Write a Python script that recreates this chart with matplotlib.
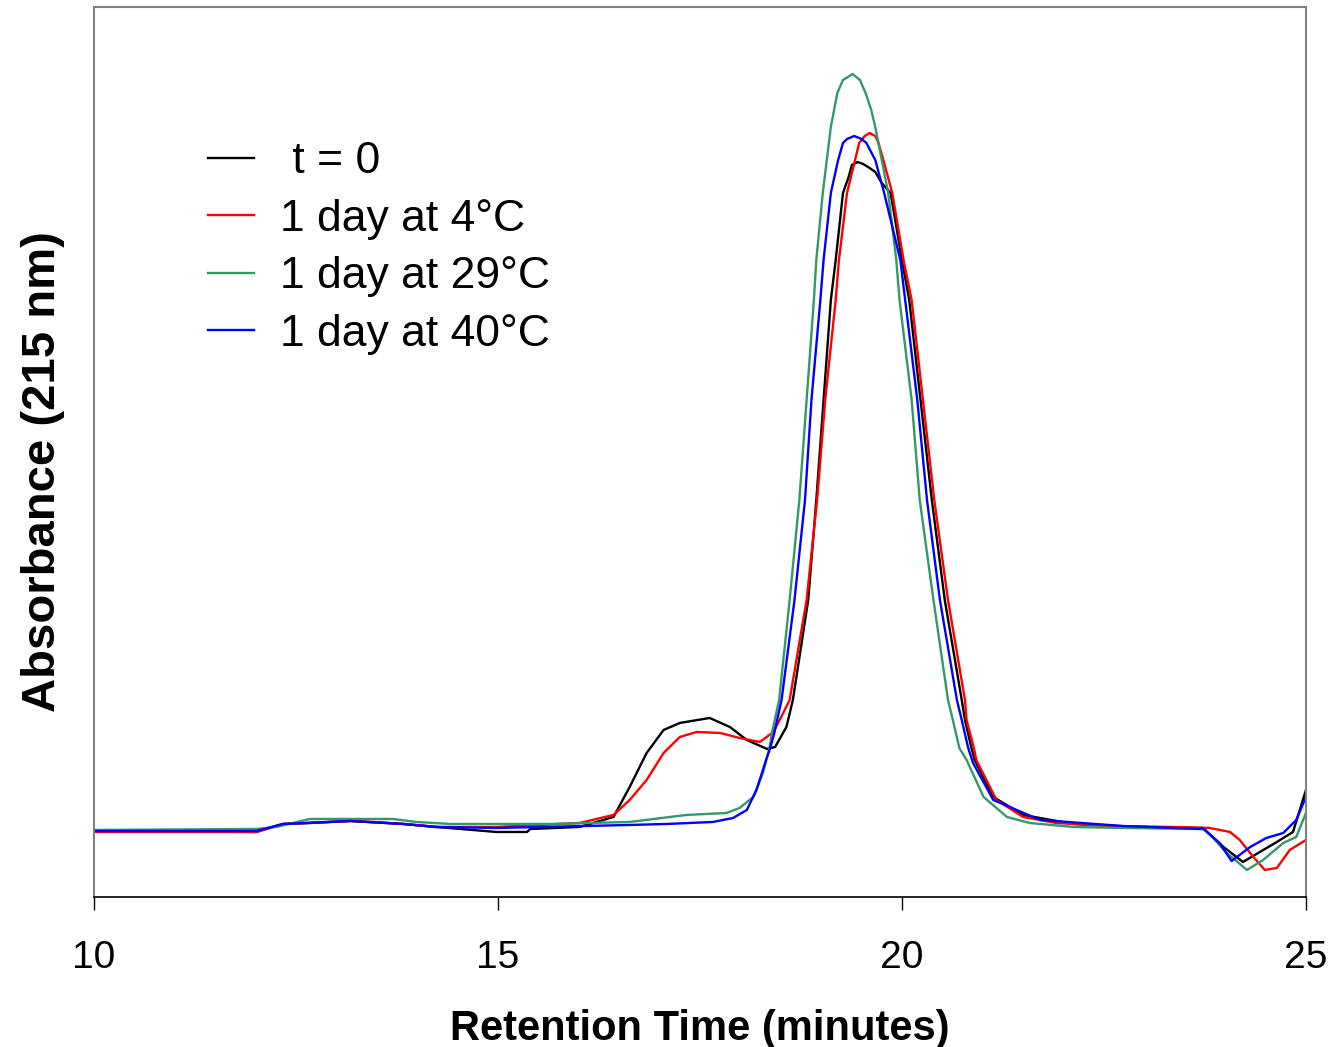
import numpy as np
import matplotlib
matplotlib.use('Agg')
from matplotlib import pyplot as plt

plt.rcParams['font.family'] = ['Liberation Sans', 'DejaVu Sans']

# retention time (min) and absorbance (arbitrary units)
t0_x = [10.00, 12.01, 12.34, 12.67, 13.17, 13.83, 14.24, 14.98, 15.36, 15.40, 16.01,
        16.43, 16.63, 16.84, 17.05, 17.25, 17.62, 17.87, 18.08, 18.33, 18.43, 18.57,
        18.65, 18.84, 18.94, 19.03, 19.12, 19.18, 19.27, 19.34, 19.38, 19.45, 19.52,
        19.60, 19.67, 19.75, 19.86, 20.00, 20.09, 20.23, 20.37, 20.53, 20.74, 20.78,
        20.86, 20.90, 21.13, 21.50, 22.12, 22.95, 23.72, 23.98, 24.22, 24.43, 24.64,
        24.84, 25.00]
t0_y = [66, 65, 73, 74, 76, 73, 70, 65, 65, 68, 70,
        80, 110, 144, 167, 174, 179, 170, 157, 148, 150, 170,
        197, 297, 397, 497, 597, 637, 704, 720, 732, 735, 733,
        729, 725, 714, 704, 637, 597, 497, 397, 297, 197, 177,
        149, 137, 100, 82, 73, 70, 69, 50, 35, 45, 55,
        65, 107]

d4_x = [10.00, 12.01, 12.34, 12.67, 13.17, 13.46, 13.83, 14.24, 14.98, 16.01, 16.43,
        16.63, 16.84, 17.05, 17.25, 17.46, 17.75, 17.99, 18.24, 18.41, 18.53, 18.61,
        18.82, 18.95, 19.05, 19.18, 19.22, 19.32, 19.42, 19.47, 19.54, 19.60, 19.67,
        19.71, 19.77, 19.88, 20.02, 20.12, 20.26, 20.40, 20.57, 20.78, 20.80, 20.89,
        20.92, 21.17, 21.50, 21.91, 22.53, 23.35, 23.81, 24.06, 24.18, 24.35, 24.49,
        24.64, 24.80, 25.00]
d4_y = [65, 65, 73, 74, 76, 75, 73, 70, 70, 74, 82,
        97, 117, 144, 160, 165, 164, 159, 155, 165, 184, 197,
        297, 397, 497, 597, 637, 704, 737, 754, 761, 764, 761,
        754, 737, 704, 637, 597, 497, 397, 297, 197, 177, 149,
        137, 97, 80, 74, 71, 70, 69, 65, 57, 40, 27,
        29, 47, 57]

d29_x = [10.00, 12.01, 12.26, 12.67, 13.70, 13.99, 14.41, 15.64, 16.63, 17.33, 17.83,
         17.99, 18.16, 18.28, 18.36, 18.39, 18.48, 18.61, 18.73, 18.82, 18.91, 18.94,
         19.02, 19.12, 19.16, 19.20, 19.27, 19.39, 19.48, 19.55, 19.62, 19.67, 19.83,
         19.93, 19.97, 20.12, 20.22, 20.39, 20.57, 20.63, 20.71, 20.80, 21.01, 21.30,
         21.58, 22.12, 22.73, 23.69, 23.76, 24.02, 24.27, 24.47, 24.72, 24.88, 25.00]
d29_y = [67, 68, 70, 78, 78, 75, 73, 73, 75, 82, 84,
         89, 100, 124, 149, 164, 197, 297, 397, 497, 597, 637,
         704, 770, 787, 804, 817, 823, 817, 804, 787, 770, 704,
         637, 597, 497, 397, 297, 197, 177, 149, 137, 100, 80,
         74, 70, 69, 68, 67, 44, 27, 37, 54, 60, 84]

d40_x = [10.00, 12.01, 12.34, 13.17, 13.83, 14.24, 14.98, 16.63, 17.09, 17.66, 17.91,
         18.08, 18.20, 18.33, 18.37, 18.42, 18.51, 18.67, 18.80, 18.88, 18.99, 19.03,
         19.12, 19.21, 19.27, 19.32, 19.41, 19.50, 19.56, 19.67, 19.78, 19.98, 20.04,
         20.19, 20.31, 20.47, 20.68, 20.74, 20.82, 20.88, 21.13, 21.71, 22.73, 23.69,
         23.72, 23.93, 24.08, 24.31, 24.51, 24.72, 24.88, 25.00]
d40_y = [66, 66, 73, 76, 73, 70, 69, 72, 73, 75, 79,
         87, 107, 140, 149, 164, 197, 297, 397, 497, 597, 637,
         704, 737, 754, 758, 761, 758, 754, 737, 704, 637, 597,
         497, 397, 297, 197, 177, 149, 134, 97, 77, 71, 68,
         69, 54, 36, 50, 59, 64, 77, 100]

labels = [' t = 0', '1 day at 4°C', '1 day at 29°C', '1 day at 40°C']
colors = ['black', '#FF0000', '#339966', '#0000FF']

fig = plt.figure(figsize=(13.33, 10.47), dpi=100)
ax = fig.add_axes([0.0705, 0.1433, 0.9092, 0.85])

series = [(t0_x, t0_y), (d4_x, d4_y), (d29_x, d29_y), (d40_x, d40_y)]
for (x, y), lab, c in zip(series, labels, colors):
    ax.plot(x, y, color=c, lw=1.7, label=lab)

ax.set_xlim(10, 25)
ax.set_ylim(0, 890)
ax.set_xticks([10, 15, 20, 25])
ax.set_yticks([])
ax.tick_params(axis='x', direction='out', length=9, width=1, pad=22, labelsize=28)
for s in ['left', 'top', 'right']:
    ax.spines[s].set_color('#808080')
    ax.spines[s].set_linewidth(1.5)
ax.spines['bottom'].set_color('black')
ax.spines['bottom'].set_linewidth(1.2)

ax.set_xlabel('Retention Time (minutes)', fontsize=30, fontweight='bold', labelpad=24)
ax.set_ylabel('Absorbance (215 nm)', fontsize=34, fontweight='bold')
ax.yaxis.set_label_coords(-0.024, 0.4775)

ax.legend(loc='upper left', bbox_to_anchor=(0.094, 0.849), frameon=False, fontsize=32,
          handlelength=1.04, handletextpad=0.59, labelspacing=0.37,
          borderpad=0, borderaxespad=0)

fig.savefig('out.png', dpi=100)
